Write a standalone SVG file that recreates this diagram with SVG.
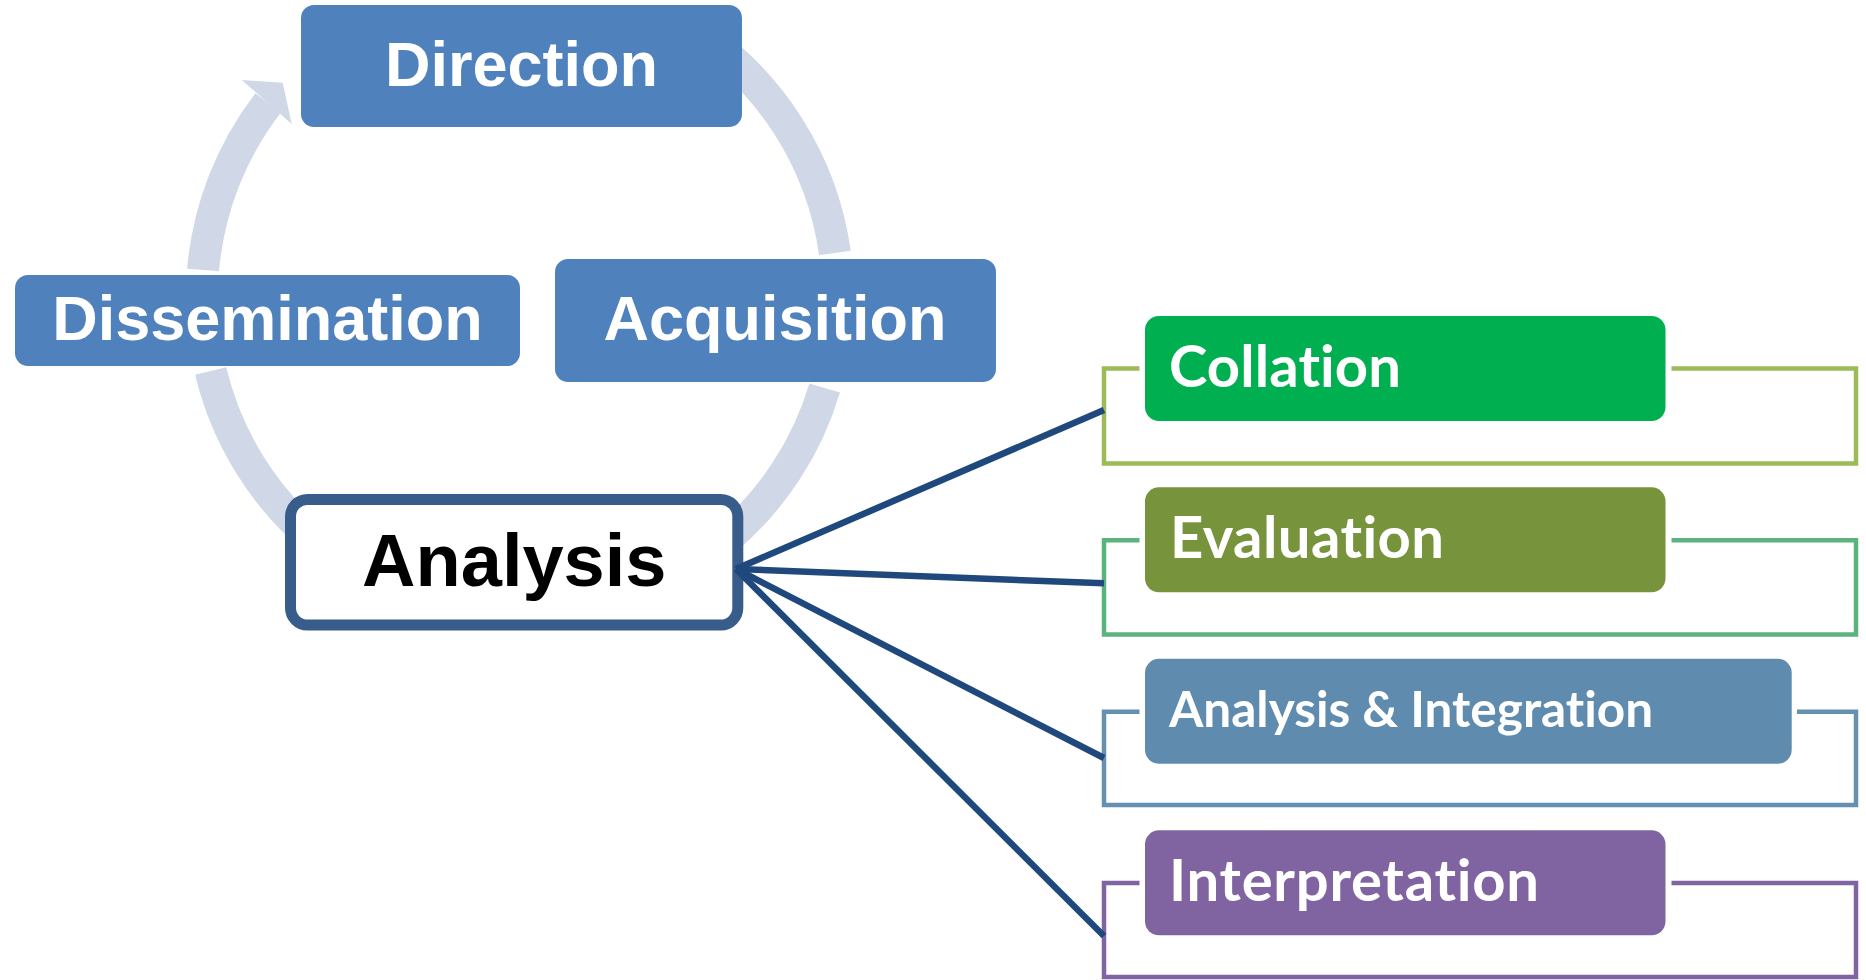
<svg xmlns="http://www.w3.org/2000/svg" width="1866" height="980" viewBox="0 0 1866 980">
<style>
.arc{fill:none;stroke:#D0D8E8;stroke-width:32}
.cyc{fill:#4F81BD}
.ct{font-family:"Liberation Sans",Arial,sans-serif;font-weight:bold;font-size:63px;fill:#FFFFFF;text-anchor:middle}
.rt{font-family:Lato,"Open Sans",sans-serif;font-weight:bold;font-size:58px;fill:#FFFFFF;font-variant-ligatures:none;font-feature-settings:"liga" 0,"clig" 0}
.br{fill:none;stroke-width:4.5}
.cn{fill:none;stroke:#1F497D;stroke-width:6.5}
</style>
<rect width="1866" height="980" fill="#FFFFFF"/>
<g id="cycle-arcs">
<path class="arc" d="M692.7 30 A318 318 0 0 1 834.9 253"/>
<path class="arc" d="M824.7 388 A318 318 0 0 1 725.1 540"/>
<path class="arc" d="M314.9 540 A318 318 0 0 1 210.7 371"/>
<path class="arc" d="M203.1 270 A318 318 0 0 1 268.1 102.9"/>
<polygon points="241.7,80 282.7,82.7 291.7,124" fill="#D0D8E8"/>
</g>
<g id="direction">
<rect class="cyc" x="301" y="5" width="441" height="122" rx="13"/>
<text class="ct" x="521.5" y="86">Direction</text>
</g>
<g id="dissemination">
<rect class="cyc" x="15" y="275" width="505" height="91" rx="13"/>
<text class="ct" x="267.5" y="340">Dissemination</text>
</g>
<g id="acquisition">
<rect class="cyc" x="555" y="259" width="441" height="123" rx="13"/>
<text class="ct" x="775" y="340">Acquisition</text>
</g>
<g id="analysis">
<rect x="290.5" y="499.5" width="447.3" height="125.5" rx="17" fill="#FFFFFF" stroke="#385D8A" stroke-width="11"/>
<text x="514.3" y="586" font-family="Liberation Sans, Arial, sans-serif" font-weight="bold" font-size="74" fill="#000000" text-anchor="middle">Analysis</text>
</g>
<g id="brackets">
<path class="br" stroke="#9BBB59" d="M1139.5 368.5 H1104 V463.5 H1856 V368.5 H1671.5"/>
<path class="br" stroke="#5DB37E" d="M1139.5 540.3 H1104 V634.5 H1856 V540.3 H1671.5"/>
<path class="br" stroke="#6590B0" d="M1139.5 711.7 H1104 V805 H1856 V711.7 H1797"/>
<path class="br" stroke="#8064A2" d="M1139.5 883 H1104 V977 H1856 V883 H1671.5"/>
</g>
<g id="collation">
<rect x="1145" y="316" width="520.5" height="105" rx="14" fill="#00B050"/>
<text class="rt" x="1169" y="387" textLength="232" lengthAdjust="spacing">Collation</text>
</g>
<g id="evaluation">
<rect x="1145" y="487.3" width="520.5" height="105" rx="14" fill="#77933C"/>
<text class="rt" x="1170" y="558" textLength="274" lengthAdjust="spacing">Evaluation</text>
</g>
<g id="analysis-integration">
<rect x="1145" y="658.8" width="646.7" height="105" rx="14" fill="#5F8CAE"/>
<text class="rt" x="1169" y="727" style="font-size:49.5px">Analysis &amp; Integration</text>
</g>
<g id="interpretation">
<rect x="1145" y="830.3" width="520.5" height="105" rx="14" fill="#8064A2"/>
<text class="rt" x="1169" y="900.6" textLength="370" lengthAdjust="spacing">Interpretation</text>
</g>
<g id="connectors">
<line class="cn" x1="736" y1="569" x2="1104" y2="410"/>
<line class="cn" x1="736" y1="569" x2="1104" y2="583.3"/>
<line class="cn" x1="736" y1="569" x2="1104" y2="758"/>
<line class="cn" x1="736" y1="569" x2="1104" y2="936"/>
</g>
</svg>
